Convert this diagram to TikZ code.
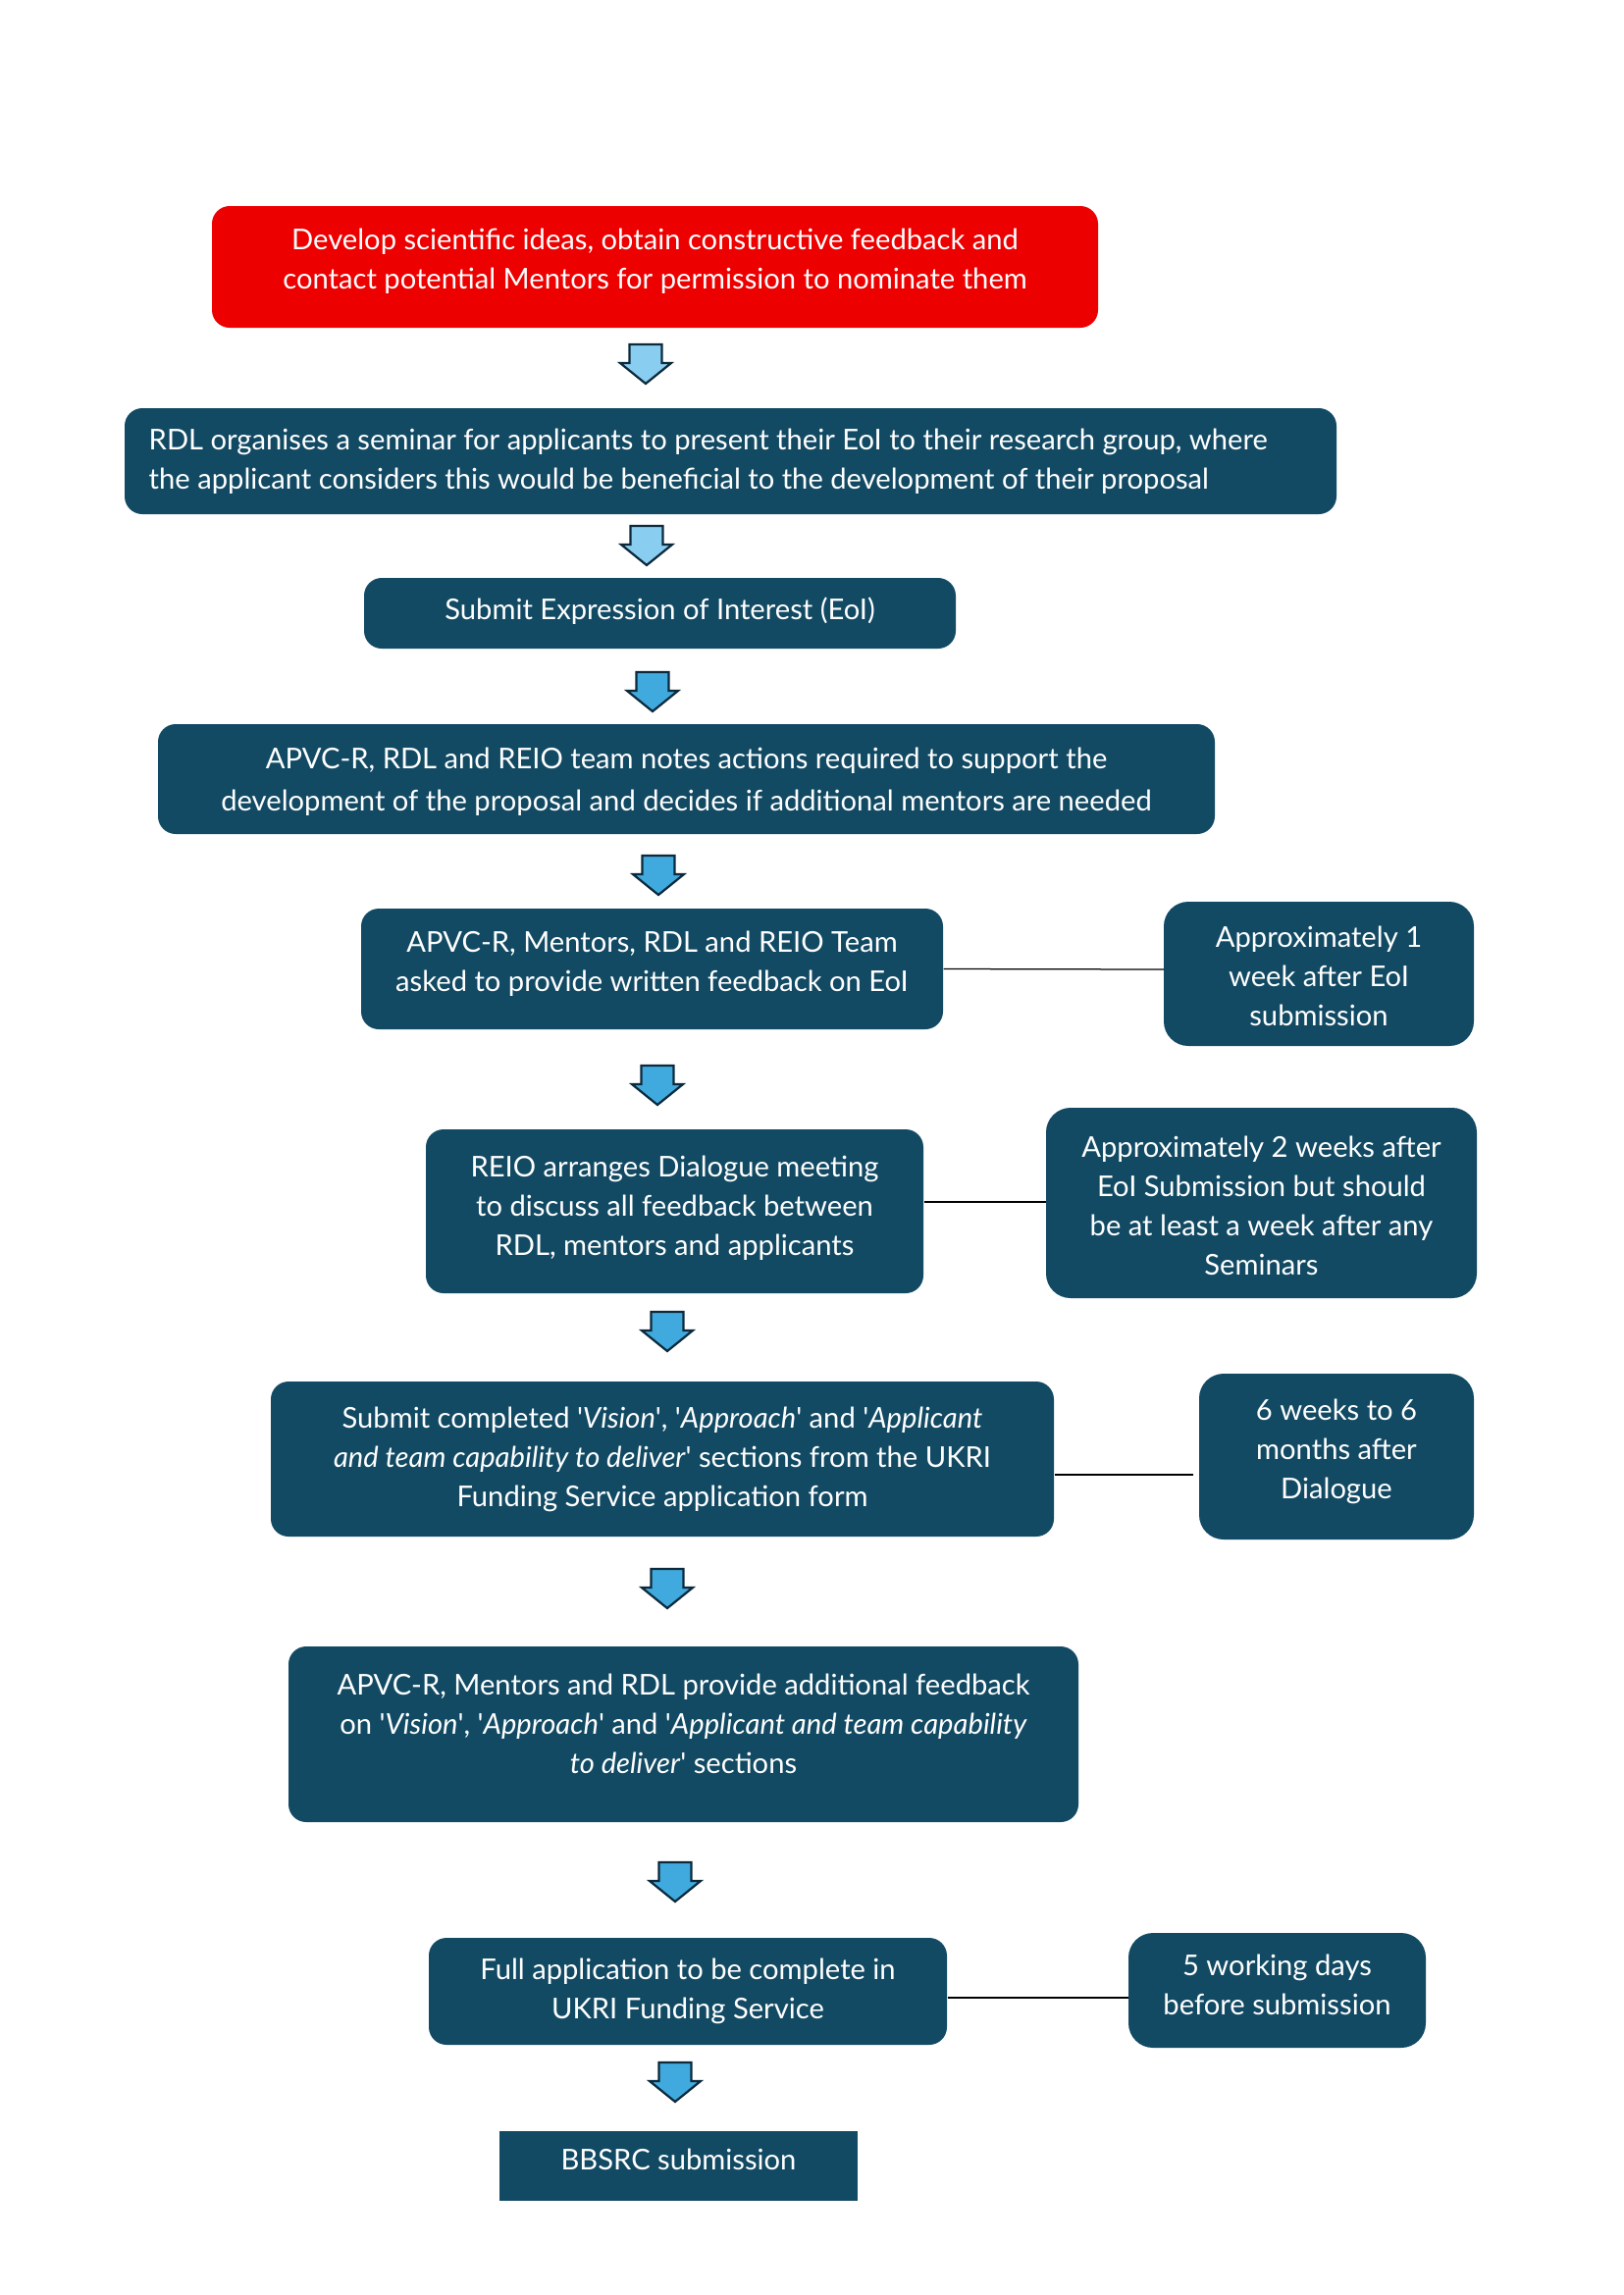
\documentclass[tikz,border=0pt]{standalone}
\usepackage{fontspec}
\setmainfont{Lato}
\usetikzlibrary{fit}
\definecolor{boxblue}{RGB}{18,74,100}
\definecolor{boxred}{RGB}{236,0,0}
\definecolor{arrowlight}{RGB}{137,205,240}
\definecolor{arrowmid}{RGB}{64,170,222}
\definecolor{arrowline}{RGB}{12,42,60}
\tikzset{
  flowbox/.style={fill=boxblue, rounded corners=6.5pt, inner sep=0pt},
  redbox/.style={flowbox, fill=boxred},
  timebox/.style={flowbox, rounded corners=9pt},
  boxtext/.style={text=white, inner sep=0pt, align=center, font=\fontsize{10.5}{14.4}\selectfont},
  arrowbody/.style={draw=arrowline, line width=0.8pt, fill=arrowmid, line join=miter},
  link/.style={draw=black, line width=0.45pt},
  pics/downarrow/.style={code={
    \draw[arrowbody, #1] (-16.5,-20) -- (16.5,-20) -- (16.5,-1) -- (26,-1) -- (0,20)
      -- (-26,-1) -- (-16.5,-1) -- cycle;
  }}
}
\newcommand\q{\textquotesingle}
\begin{document}
\begin{tikzpicture}[x=0.36pt, y=-0.36pt]
  \useasboundingbox (0,0) rectangle (1654,2339);
  \node[redbox, fit={(216,210) (1119,334)},
    label={[boxtext, yshift=2pt]center:{Develop scientific ideas, obtain constructive feedback and\\contact potential Mentors for permission to nominate them}}] (ideas) {};
  \node[flowbox, fit={(127,416) (1362,524)},
    label={[boxtext, align=left, xshift=-8.2pt]center:{RDL organises a seminar for applicants to present their EoI to their research group, where\\the applicant considers this would be beneficial to the development of their proposal}}] (seminar) {};
  \node[flowbox, fit={(371,589) (974,661)},
    label={[boxtext, yshift=1pt]center:{Submit Expression of Interest (EoI)}}] (eoi) {};
  \node[flowbox, fit={(161,738) (1238,850)},
    label={[boxtext, yshift=-1pt, font=\fontsize{10.5}{15.5}\selectfont]center:{APVC-R, RDL and REIO team notes actions required to support the\\development of the proposal and decides if additional mentors are needed}}] (actions) {};
  \node[flowbox, fit={(368,926) (961,1049)},
    label={[boxtext, yshift=2pt]center:{APVC-R, Mentors, RDL and REIO Team\\asked to provide written feedback on EoI}}] (feedback) {};
  \node[timebox, fit={(1186,919) (1502,1066)},
    label={[boxtext, yshift=-1pt]center:{Approximately 1\\week after EoI\\submission}}] (week) {};
  \node[flowbox, fit={(434,1151) (941,1318)},
    label={[boxtext, yshift=1pt]center:{REIO arranges Dialogue meeting\\to discuss all feedback between\\RDL, mentors and applicants}}] (dialogue) {};
  \node[timebox, fit={(1066,1129) (1505,1323)},
    label={[boxtext, yshift=-1pt]center:{Approximately 2 weeks after\\EoI Submission but should\\be at least a week after any\\Seminars}}] (twoweeks) {};
  \node[flowbox, fit={(276,1408) (1074,1566)},
    label={[boxtext]center:{Submit completed \q\textit{Vision}\q, \q\textit{Approach}\q{} and \q\textit{Applicant}\\\textit{and team capability to deliver}\q{} sections from the UKRI\\Funding Service application form}}] (sections) {};
  \node[timebox, fit={(1222,1400) (1502,1569)},
    label={[boxtext, yshift=2pt]center:{6 weeks to 6\\months after\\Dialogue}}] (months) {};
  \node[flowbox, fit={(294,1678) (1099,1857)},
    label={[boxtext, yshift=4pt]center:{APVC-R, Mentors and RDL provide additional feedback\\on \q\textit{Vision}\q, \q\textit{Approach}\q{} and \q\textit{Applicant and team capability}\\\textit{to deliver}\q{} sections}}] (additional) {};
  \node[flowbox, fit={(437,1975) (965,2084)},
    label={[boxtext]center:{Full application to be complete in\\UKRI Funding Service}}] (full) {};
  \node[timebox, fit={(1150,1970) (1453,2087)},
    label={[boxtext, yshift=2pt]center:{5 working days\\before submission}}] (days) {};
  \node[flowbox, rounded corners=0pt, fit={(509,2172) (874,2243)},
    label={[boxtext, yshift=2.5pt]center:{BBSRC submission}}] (bbsrc) {};

  \pic (a1) at (658,371) {downarrow={fill=arrowlight}};
  \pic (a2) at (659,556) {downarrow={fill=arrowlight}};
  \pic (a3) at (665,705) {downarrow};
  \pic (a4) at (671,892) {downarrow};
  \pic (a5) at (670,1106) {downarrow};
  \pic (a6) at (680,1357) {downarrow};
  \pic (a7) at (680,1619) {downarrow};
  \pic (a8) at (688,1918) {downarrow};
  \pic (a9) at (688,2122) {downarrow};

  \coordinate (l5) at (1186,988);
  \coordinate (l6) at (1066,1225);
  \coordinate (l7) at (1216,1503);
  \coordinate (l9) at (1150,2036);
  \draw[link] (feedback.east) -- (l5);
  \draw[link] (dialogue.east |- l6) -- (l6);
  \draw[link] (sections.east |- l7) -- (l7);
  \draw[link] (full.east |- l9) -- (l9);
\end{tikzpicture}
\end{document}
